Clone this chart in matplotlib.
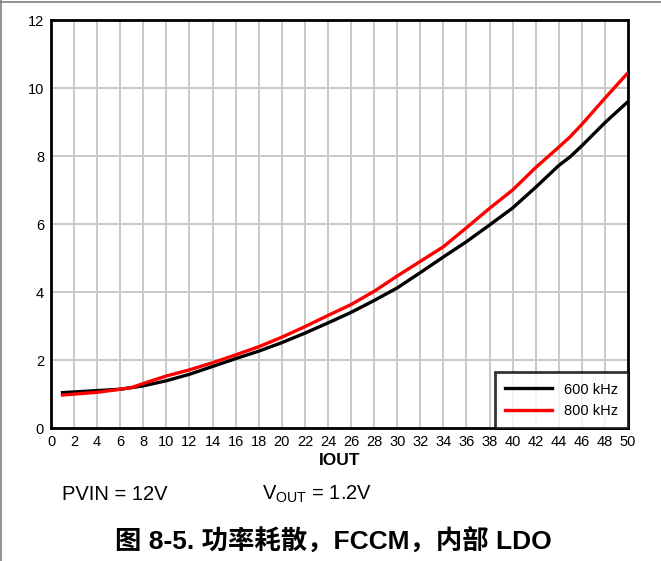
import numpy as np
import matplotlib.pyplot as plt

plt.rcParams['font.family'] = ['Liberation Sans', 'Noto Sans CJK SC', 'DejaVu Sans']

# IOUT (A) and power loss (W)
iout = [1, 4, 6, 7, 8, 10, 12, 14, 16, 18, 20, 22, 24, 26, 28, 30, 32, 34, 36, 38, 40, 42, 44, 45, 46, 48, 50]
loss_600k = [1.04, 1.10, 1.14, 1.19, 1.24, 1.39, 1.58, 1.81, 2.04, 2.26, 2.51, 2.79, 3.09, 3.40, 3.75, 4.12,
             4.57, 5.03, 5.48, 5.97, 6.47, 7.08, 7.72, 7.98, 8.30, 8.98, 9.60]
loss_800k = [0.97, 1.05, 1.14, 1.19, 1.31, 1.53, 1.71, 1.92, 2.15, 2.39, 2.67, 2.98, 3.31, 3.63, 4.02, 4.47,
             4.90, 5.33, 5.89, 6.46, 7.00, 7.66, 8.26, 8.57, 8.93, 9.70, 10.45]
labels = ['600 kHz', '800 kHz']

fig = plt.figure(figsize=(6.61, 5.61), dpi=100)
ax = fig.add_axes([51 / 661, 1 - 428 / 561, 577 / 661, 408 / 561])

ax.plot(iout, loss_600k, color='black', lw=2.4, label=labels[0], zorder=3)
ax.plot(iout, loss_800k, color='#ff0000', lw=2.4, label=labels[1], zorder=3)

ax.set_xlim(0, 50)
ax.set_ylim(0, 12)
ax.set_xticks(np.arange(0, 51, 2))
ax.set_yticks(np.arange(0, 13, 2))
ax.grid(True, color='#c8c8c8', lw=1.4)
ax.tick_params(length=0, labelsize=10.5, pad=5)
for s in ax.spines.values():
    s.set_linewidth(2)
    s.set_color('black')
ax.set_xlabel('IOUT', fontsize=12.5, fontweight='bold', labelpad=3)

leg = ax.legend(loc='lower right', fontsize=10.5, frameon=True, fancybox=False,
                borderaxespad=0, handlelength=3.2, borderpad=0.7)
leg.get_frame().set_edgecolor('black')
leg.get_frame().set_linewidth(2)

fig.text(62 / 661, 1 - 494 / 561, 'PVIN = 12V', fontsize=14.5, va='center')
fig.text(262 / 661, 1 - 494 / 561, r'V$_{\mathregular{OUT}}$ = 1.2V', fontsize=14.5, va='center')
fig.text(333 / 661, 1 - 542 / 561, '图 8-5. 功率耗散，FCCM，内部 LDO', fontsize=19,
         fontweight='bold', ha='center', va='center')

# thin frame lines at the top and left of the picture
fig.add_artist(plt.Line2D([0, 1], [1 - 2 / 561] * 2, color='#808080', lw=1.2))
fig.add_artist(plt.Line2D([1 / 661] * 2, [0, 1], color='#808080', lw=1.2))

fig.savefig('out.png', dpi=100)
